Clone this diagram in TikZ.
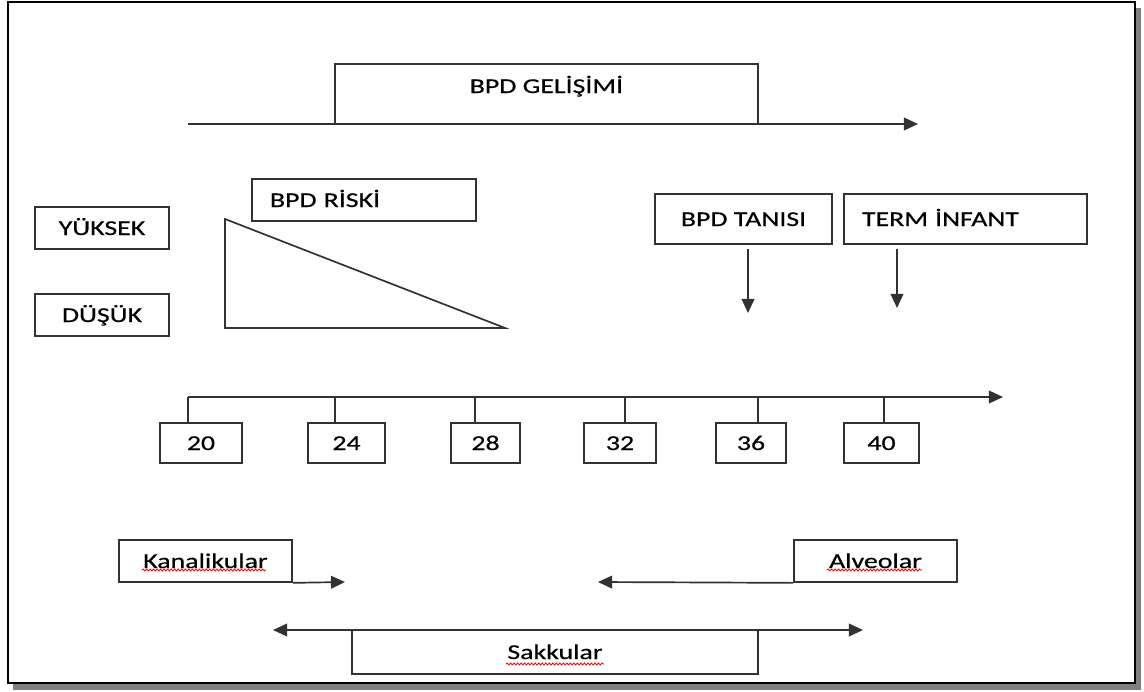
\documentclass[tikz,border=0pt]{standalone}
\usepackage{fontspec}
\setmainfont{Carlito}[FakeStretch=1.32, FakeBold=0.5]
\usetikzlibrary{arrows.meta, positioning, decorations.pathmorphing}
\definecolor{linegray}{RGB}{50,50,50}
\definecolor{shadowgray}{RGB}{128,128,128}

\begin{document}
\begin{tikzpicture}[x=0.025cm, y=-0.025cm,
  every node/.style={font=\fontsize{15pt}{18pt}\selectfont},
  box/.style={rectangle, draw=linegray, line width=1.2pt, fill=white, inner sep=0pt,
              text centered, text height=0.35cm, text depth=0pt},
  lbox/.style={box, align=left, inner xsep=0.45cm, text width=#1},
  ln/.style={draw=linegray, line width=1.2pt},
  arr/.style={-{Triangle[length=10pt, width=9pt]}, line width=1.2pt, linegray},
  darr/.style={{Triangle[length=10pt, width=9pt]}-{Triangle[length=10pt, width=9pt]}, line width=1.2pt, linegray},
  spell/.style={red, line width=0.6pt, decorate, decoration={snake, amplitude=0.7pt, segment length=2.5pt}}
]
\useasboundingbox (0,0) rectangle (1144,691);
\fill[shadowgray] (13,683) rectangle (1141,690);
\fill[shadowgray] (1135,8) rectangle (1141,690);
\draw[line width=2pt, fill=white] (8,2) rectangle (1135,683);

\coordinate (g0) at (188,124);
\coordinate (g1) at (918,124);
\draw[arr] (g0) -- (g1);
\node[box, minimum width=10.575cm, minimum height=1.5cm, text depth=0.4cm] (gelisim) at (546.5,94)
  {BPD GELİŞİMİ};

\node[lbox=4.7cm, minimum height=1.05cm] (riski)  at (364,200) {BPD RİSKİ};
\node[box, minimum width=3.35cm, minimum height=1.05cm] (yuksek) at (102,228) {YÜKSEK};
\node[box, minimum width=3.35cm, minimum height=1.05cm] (dusuk)  at (102,315) {DÜŞÜK};
\draw[ln] (225,219) -- (225,328) -- (505,328) -- cycle;

\node[box, minimum width=4.425cm, minimum height=1.25cm] (tani) at (743.5,219) {BPD TANISI};
\node[lbox=5.175cm, minimum height=1.25cm] (term) at (965.5,219) {TERM İNFANT};
\coordinate (taniend) at (748,313);
\coordinate (termend) at (897,308);
\draw[arr, shorten <=0.1cm] (tani.south -| taniend) -- (taniend);
\draw[arr, shorten <=0.1cm] (term.south -| termend) -- (termend);

\coordinate (t0) at (188,397);
\coordinate (t1) at (1003,397);
\draw[arr] (t0) -- (t1);
\foreach \wk/\cx/\bw/\tk in {20/201/2.05/188, 24/346.5/1.925/335, 28/485.5/1.725/475,
                             32/620/1.8/625, 36/751/1.75/758, 40/881.5/1.875/884}{
  \node[box, minimum width=\bw cm, minimum height=1cm] (w\wk) at (\cx,443) {\wk};
  \draw[ln] (w\wk.north -| \tk,0) -- (\tk,397);
}

\node[box, minimum width=4.325cm, minimum height=1.05cm] (kanal)  at (205.5,561) {Kanalikular};
\node[box, minimum width=4.075cm, minimum height=1.05cm] (alveol) at (875.5,561) {Alveolar};
\coordinate (kanalend)  at (345,582);
\coordinate (alveolend) at (598,582);
\draw[arr] (kanal.south east) -- (kanalend);
\draw[arr] (alveol.south west) -- (alveolend);

\coordinate (s0) at (273,630);
\coordinate (s1) at (863,630);
\draw[darr] (s0) -- (s1);
\node[box, minimum width=10.15cm, minimum height=1.1cm] (sakku) at (555,652) {Sakkular};

\draw[spell] (142,570) -- (266,570);
\draw[spell] (827,570) -- (922,570);
\draw[spell] (506,664) -- (604,664);
\end{tikzpicture}
\end{document}
